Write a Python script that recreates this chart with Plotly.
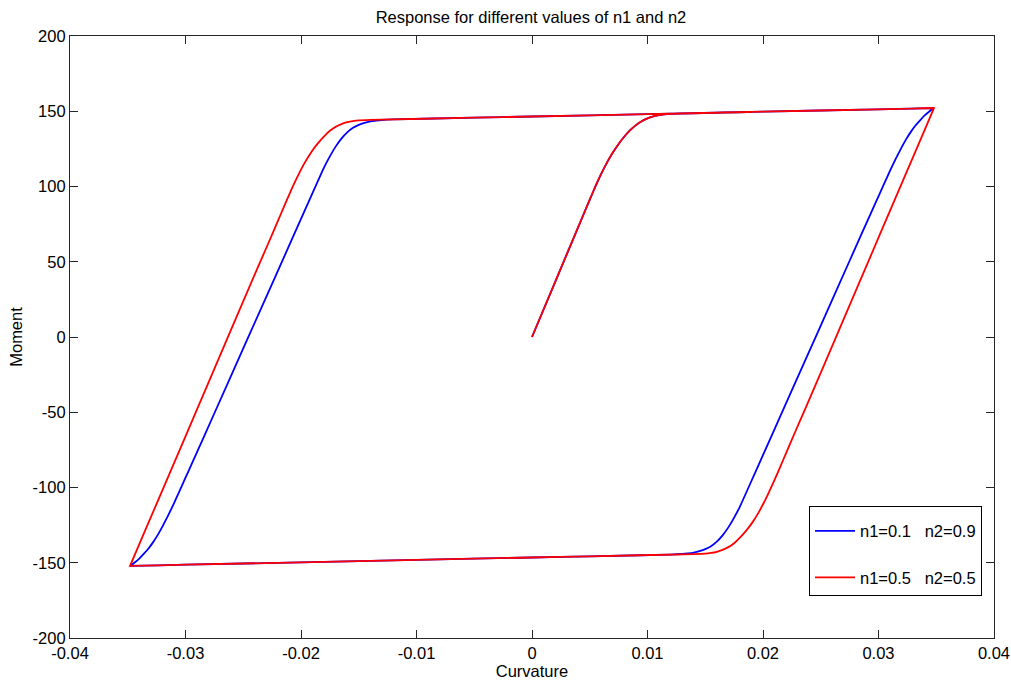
import plotly.graph_objects as go

# ---- data ----
load_x = [0.0, 0.0020, 0.0040, 0.0050, 0.0055, 0.0060, 0.0065, 0.0070, 0.0075, 0.0080, 0.0085, 0.0090, 0.0095,
          0.0100, 0.0105, 0.0110, 0.0120, 0.020, 0.027, 0.0348]
load_y = [0.0, 36.5, 73.0, 91.3, 100.2, 108.5, 116.0, 122.6, 128.3, 133.2, 137.4, 140.8, 143.4,
          145.3, 146.6, 147.5, 148.3, 149.7, 150.8, 152.1]

# blue (n1=0.1, n2=0.9): unloading from +peak, then reloading from -peak
blue_down_x = [0.0348, 0.0344, 0.0340, 0.0336, 0.0332, 0.0328, 0.0324, 0.0320, 0.0315, 0.0310, 0.0305, 0.0300,
               0.0295, 0.02749, 0.02475, 0.02229, 0.01942, 0.01798, 0.0175, 0.0170, 0.0165, 0.0160, 0.0155,
               0.0150, 0.0145, 0.0140, 0.0135, 0.0130, 0.0120, 0.005, 0.0, -0.010, -0.020, -0.030, -0.0348]
blue_down_y = [152.1, 149.8, 147.2, 144.0, 140.5, 136.3, 131.5, 126.0, 118.5, 110.5, 102.0, 93.5,
               85.0, 50.5, 3.3, -39.0, -88.4, -113.0, -120.0, -126.5, -131.8, -136.0, -139.0,
               -141.0, -142.3, -143.2, -143.8, -144.2, -144.6, -145.7, -146.5, -148.1, -149.7, -151.3, -152.1]
blue_up_x = [-0.0348, -0.0344, -0.0340, -0.0336, -0.0332, -0.0328, -0.0324, -0.0320, -0.0315, -0.0310, -0.0305, -0.0300,
             -0.0295, -0.02749, -0.02475, -0.02229, -0.01942, -0.01798, -0.0175, -0.0170, -0.0165, -0.0160, -0.0155,
             -0.0150, -0.0145, -0.0140, -0.0135, -0.0130, -0.0120, -0.005, 0.0, 0.010, 0.020, 0.030, 0.0348]
blue_up_y = [-152.1, -149.8, -147.2, -144.0, -140.5, -136.3, -131.5, -126.0, -118.5, -110.5, -102.0, -93.5,
             -85.0, -50.5, -3.3, 39.0, 88.4, 113.0, 120.0, 126.5, 131.8, 136.0, 139.0,
             141.0, 142.3, 143.2, 143.8, 144.2, 144.6, 145.7, 146.5, 148.1, 149.7, 151.3, 152.1]

# red (n1=0.5, n2=0.5)
red_down_x = [0.0348, 0.03325, 0.03114, 0.02905, 0.02658, 0.02374, 0.0228, 0.0220, 0.0215, 0.0210, 0.0204, 0.0197,
              0.0191, 0.01856, 0.01798, 0.0175, 0.0170, 0.0165, 0.0160, 0.0155, 0.0150, 0.0140, 0.005, 0.0,
              -0.010, -0.020, -0.030, -0.0348]
red_down_y = [152.1, 124.2, 86.5, 48.9, 4.6, -46.3, -62.8, -77.1, -86.1, -95.0, -105.0, -115.5,
              -123.0, -128.5, -133.5, -137.0, -139.6, -141.4, -142.7, -143.5, -144.0, -144.3, -145.7, -146.5,
              -148.1, -149.7, -151.3, -152.1]
red_up_x = [-0.0348, -0.03325, -0.03114, -0.02905, -0.02658, -0.02374, -0.0228, -0.0220, -0.0215, -0.0210, -0.0204, -0.0197,
            -0.0191, -0.01856, -0.01798, -0.0175, -0.0170, -0.0165, -0.0160, -0.0155, -0.0150, -0.0140, -0.005, 0.0,
            0.010, 0.020, 0.030, 0.0348]
red_up_y = [-152.1, -124.2, -86.5, -48.9, -4.6, 46.3, 62.8, 77.1, 86.1, 95.0, 105.0, 115.5,
            123.0, 128.5, 133.5, 137.0, 139.6, 141.4, 142.7, 143.5, 144.0, 144.3, 145.7, 146.5,
            148.1, 149.7, 151.3, 152.1]

x_ticks = [-0.04, -0.03, -0.02, -0.01, 0, 0.01, 0.02, 0.03, 0.04]
x_tick_text = ["-0.04", "-0.03", "-0.02", "-0.01", "0", "0.01", "0.02", "0.03", "0.04"]
y_ticks = [-200, -150, -100, -50, 0, 50, 100, 150, 200]
y_tick_text = ["-200", "-150", "-100", "-50", "0", "50", "100", "150", "200"]

label_blue = "n1=0.1\u00a0\u00a0\u00a0n2=0.9"
label_red = "n1=0.5\u00a0\u00a0\u00a0n2=0.5"

FONT = "Liberation Sans, Arial, sans-serif"
FS = 16.5

fig = go.Figure()
fig.add_trace(go.Scatter(
    x=load_x + blue_down_x + blue_up_x,
    y=load_y + blue_down_y + blue_up_y,
    mode="lines", line=dict(color="#0000ff", width=1.8, shape="spline", smoothing=0.5),
    name=label_blue, legendgroup="a"))
fig.add_trace(go.Scatter(
    x=load_x + red_down_x + red_up_x,
    y=load_y + red_down_y + red_up_y,
    mode="lines", line=dict(color="#ff0000", width=1.8, shape="spline", smoothing=0.5),
    name=label_red, legendgroup="b"))

axis_common = dict(
    showgrid=False, zeroline=False, showline=True, linecolor="#262626", linewidth=1.2,
    mirror="allticks", ticks="inside", ticklen=8, tickcolor="#262626", tickwidth=1,
    tickfont=dict(family=FONT, size=FS, color="black"), automargin=False,
)

fig.update_layout(
    width=1011, height=684,
    paper_bgcolor="white", plot_bgcolor="white",
    margin=dict(l=70, r=17, t=36, b=46),
    font=dict(family=FONT, size=FS, color="black"),
    title=dict(text="Response for different values of n1 and n2", x=0.5252, xanchor="center",
               y=0.975, yanchor="middle", font=dict(family=FONT, size=FS, color="black")),
    xaxis=dict(range=[-0.04, 0.04], tickmode="array", tickvals=x_ticks, ticktext=x_tick_text,
               title=dict(text="Curvature", font=dict(family=FONT, size=FS), standoff=2), **axis_common),
    yaxis=dict(range=[-200, 200], tickmode="array", tickvals=y_ticks, ticktext=y_tick_text,
               title=dict(text="Moment", font=dict(family=FONT, size=FS), standoff=5), **axis_common),
    legend=dict(x=0.7998, y=0.219, xanchor="left", yanchor="top",
                bgcolor="white", bordercolor="black", borderwidth=1,
                font=dict(family=FONT, size=FS, color="black"),
                title=dict(text="\u00a0", font=dict(size=5)),
                traceorder="grouped", tracegroupgap=22, itemwidth=40),
    showlegend=True,
)

# remove the default page margin so the figure fills the 1011x684 window exactly
fig.write_html("out.html",
               config={"displayModeBar": False},
               post_script="document.body.style.margin='0px';document.body.style.overflow='hidden';")
